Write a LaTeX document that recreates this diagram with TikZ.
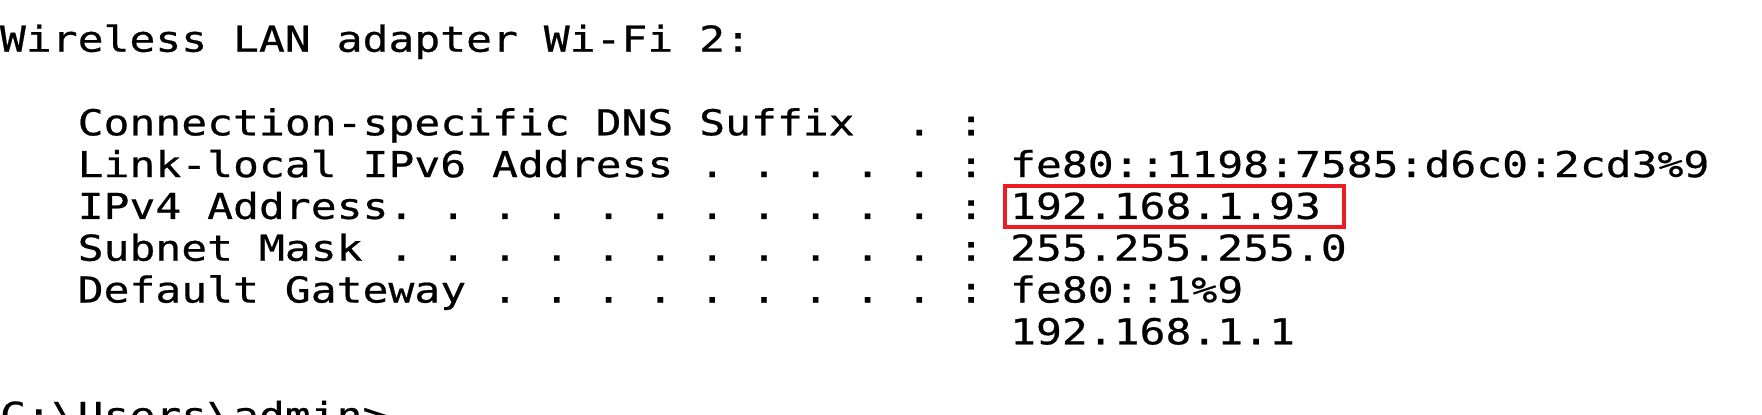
\documentclass[tikz,border=0pt]{standalone}
\usepackage{fontspec}
\newfontfamily\termfont[FakeStretch=1.205,FakeBold=0.6]{DejaVu Sans Mono}
\definecolor{boxred}{RGB}{237,28,36}
\begin{document}
\begin{tikzpicture}[x=1pt,y=1pt,
  termline/.style={anchor=base west, inner sep=0pt, outer sep=0pt,
    font=\termfont\fontsize{35.7}{40}\selectfont, text=black},
  hilite/.style={draw=boxred, line width=4pt}]
\useasboundingbox (0,0) rectangle (1762,-415);
\fill[white] (0,0) rectangle (1762,-415);
\clip (0,0) rectangle (1762,-415);
% rows: baseline y = -(51.7 + 41.8 r); columns: x = 25.9 c
\node[termline] (r0) at (0,-51.7) {Wireless~LAN~adapter~Wi-Fi~2:};
\node[termline] (r2) at (77.7,-135.3) {Connection-specific~DNS~Suffix~~.~:};
\node[termline] (r3) at (77.7,-177.1) {Link-local~IPv6~Address~.~.~.~.~.~:};
\node[termline] (v3) at (1010.1,-177.1) {fe80::1198:7585:d6c0:2cd3\%9};
\node[termline] (r4) at (77.7,-218.9) {IPv4~Address.~.~.~.~.~.~.~.~.~.~.~:};
\node[termline] (v4) at (1010.1,-218.9) {192.168.1.93};
\node[termline] (r5) at (77.7,-260.7) {Subnet~Mask~.~.~.~.~.~.~.~.~.~.~.~:};
\node[termline] (v5) at (1010.1,-260.7) {255.255.255.0};
\node[termline] (r6) at (77.7,-302.5) {Default~Gateway~.~.~.~.~.~.~.~.~.~:};
\node[termline] (v6) at (1010.1,-302.5) {fe80::1\%9};
\node[termline] (v7) at (1010.1,-344.3) {192.168.1.1};
\node[termline] (r9) at (0,-427.9) {C:\textbackslash Users\textbackslash admin>};
\draw[hilite] (1005.3,-185.5) rectangle (1344,-227);
\end{tikzpicture}
\end{document}
